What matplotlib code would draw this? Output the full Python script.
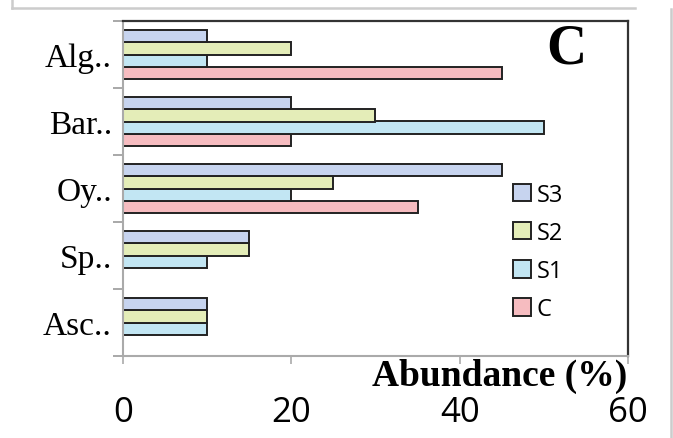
import matplotlib
matplotlib.use("Agg")
import matplotlib.pyplot as plt
import numpy as np
from matplotlib.lines import Line2D

# taxa from bottom to top
categories = ["Asc..", "Sp..", "Oy..", "Bar..", "Alg.."]
C = [0, 0, 35, 20, 45]
S1 = [10, 10, 20, 50, 10]
S2 = [10, 15, 25, 30, 20]
S3 = [10, 15, 45, 20, 10]

series = [("C", C, "#f6bcc0"), ("S1", S1, "#c2e6f3"),
          ("S2", S2, "#e4edb8"), ("S3", S3, "#c7d4ef")]

W, H = 673, 439
fig = plt.figure(figsize=(W / 100, H / 100), dpi=100)
ax = fig.add_axes([123 / W, 1 - 357 / H, (628 - 123) / W, (357 - 22) / H])

# light grey frame lines around the chart area
for xs, ys in [((12, 12), (0, 9)), ((12, 635), (9, 9)), ((671, 671), (10, H))]:
    fig.lines.append(Line2D([x / W for x in xs], [1 - v / H for v in ys],
                            transform=fig.transFigure, color="#cccccc", lw=1.8))

y = np.arange(len(categories))
h = 0.185
for i, (name, vals, col) in enumerate(series):
    ax.barh(y + (i - 1.5) * h, vals, height=h, color=col, edgecolor="#222222",
            lw=1.4, label=name)

ax.set_xlim(0, 60)
ax.set_ylim(-0.5, len(categories) - 0.5)
ax.set_xticks([0, 20, 40, 60])
ax.set_xticklabels(["0", "20", "40", "60"], fontsize=25, family="Open Sans")
ax.set_yticks(y)
ax.set_yticklabels(categories, fontsize=24, family="Liberation Serif")
ax.set_yticks(np.arange(len(categories) + 1) - 0.5, minor=True)
ax.tick_params(axis="y", which="major", length=0, pad=8)
ax.tick_params(axis="y", which="minor", length=7, color="#999999", width=1.2)
ax.tick_params(axis="x", length=6, color="#aaaaaa", width=1.2, pad=22)

for s in ["left", "bottom"]:
    ax.spines[s].set_color("#aaaaaa")
    ax.spines[s].set_linewidth(1.5)
for s in ["top", "right"]:
    ax.spines[s].set_color("#333333")
    ax.spines[s].set_linewidth(1.6)

h_, l_ = ax.get_legend_handles_labels()
ax.legend(h_[::-1], l_[::-1], loc="upper left",
          bbox_to_anchor=((501 - 123) / 505, (357 - 172) / 335),
          frameon=False, prop={"family": "Open Sans", "size": 17},
          handlelength=0.75, handleheight=0.75, handletextpad=0.25,
          labelspacing=0.6, borderpad=0)

ax.text((566 - 123) / 505, (357 - 50) / 335, "C", transform=ax.transAxes,
        fontsize=40, fontweight="bold", family="Liberation Serif",
        ha="center", va="center")
fig.text(500 / W, 1 - 376 / H, "Abundance (%)", fontsize=27,
         fontweight="bold", family="Liberation Serif", ha="center", va="center")

fig.savefig("out.png", dpi=100)
